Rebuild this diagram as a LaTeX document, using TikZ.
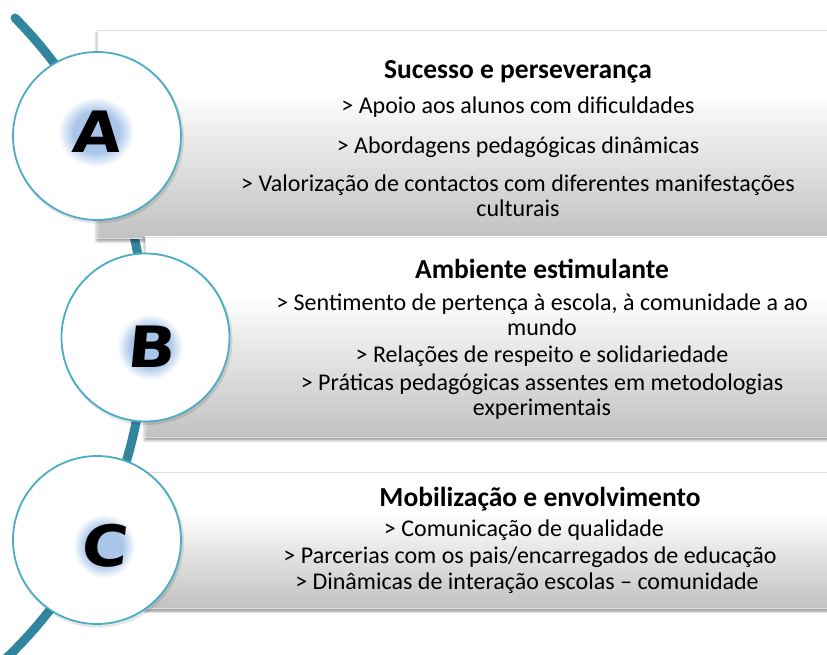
\documentclass[tikz,border=0pt]{standalone}
\usepackage{fontspec}
\setmainfont{Carlito}
\newfontfamily\letterfont[UprightFont={* Bold}, FakeStretch=1.1, FakeSlant=0.1]{DejaVu Sans}
\usetikzlibrary{shadows.blur}
\definecolor{aqua}{HTML}{4BACC6}
\definecolor{arcteal}{HTML}{31859C}
\definecolor{glowblue}{HTML}{8DB3E2}
\definecolor{boxgray}{HTML}{C2C2C2}
\pgfdeclareverticalshading{boxshade}{100bp}{color(0bp)=(boxgray); color(25bp)=(boxgray); color(45bp)=(boxgray!45!white); color(60bp)=(white); color(100bp)=(white)}
\pgfdeclareradialshading{glowshade}{\pgfpoint{0bp}{0bp}}{color(0bp)=(glowblue!75!white); color(15bp)=(glowblue!75!white); color(25bp)=(white); color(50bp)=(white)}
\tikzset{
	bar/.style={shade, shading=boxshade, draw=gray!25, line width=.6pt,
		blur shadow={shadow xshift=0pt, shadow yshift=-3pt, shadow blur radius=3pt, shadow opacity=45}},
	disc/.style={circle, fill=white, draw=aqua, line width=1.8pt, minimum size=168pt, inner sep=0pt},
	discshadow/.style={fill=black, opacity=.1},
	glow/.style={shade, shading=glowshade},
	letter/.style={font=\letterfont\fontsize{57}{57}\selectfont, inner sep=0pt, text height=41pt, text depth=0pt},
	heading/.style={font=\bfseries\fontsize{27.5}{32}\selectfont, anchor=base, inner sep=0pt},
	item/.style={font=\fontsize{24}{27}\selectfont, anchor=base, inner sep=0pt},
	arcline/.style={draw=arcteal, line width=9pt, line cap=round}
}

\begin{document}
\begin{tikzpicture}[x=1pt,y=1pt]
	\useasboundingbox (0,0) rectangle (827,654);
	\clip (0,0) rectangle (827,654);

	% the curved band behind the discs
	\coordinate (top) at (15,636);
	\draw[arcline] (top) arc[start angle=44.7, end angle=-47, radius=449];

	% bars
	\path[bar] (97,416) rectangle (850,624);
	\path[bar] (145,217) rectangle (850,417);
	\path[bar] (145,46) rectangle (850,182);

	% discs
	\coordinate (cA) at (97,518);
	\coordinate (cB) at (145.5,316.5);
	\coordinate (cC) at (97,114);
	\foreach \c in {cA,cB,cC}
		\fill[discshadow] ([shift={(1.5,-2)}]\c) circle (85.5);
	\node[disc] (dA) at (cA) {};
	\node[disc] (dB) at (cB) {};
	\node[disc] (dC) at (cC) {};

	\coordinate (pA) at (96,522);
	\coordinate (pB) at (150,307);
	\coordinate (pC) at (104,108);
	\path[glow] (pA) ellipse [x radius=38, y radius=35];
	\path[glow] (pB) ellipse [x radius=33, y radius=33];
	\path[glow] (pC) ellipse [x radius=31, y radius=32];
	\node[letter] (lA) at (pA) {A};
	\node[letter] (lB) at (pB) {B};
	\node[letter] (lC) at (pC) {C};

	% texts
	\node[heading] (tA) at (518,575) {Sucesso e perseverança};
	\node[item] (tA1) at (518,540) {> Apoio aos alunos com dificuldades};
	\node[item] (tA2) at (518,500) {> Abordagens pedagógicas dinâmicas};
	\node[item] (tA3) at (518,462) {> Valorização de contactos com diferentes manifestações};
	\node[item] (tA4) at (518,437) {culturais};

	\node[heading] (tB) at (542,375) {Ambiente estimulante};
	\node[item] (tB1) at (542,343) {> Sentimento de pertença à escola, à comunidade a ao};
	\node[item] (tB2) at (542,318) {mundo};
	\node[item] (tB3) at (542,291) {> Relações de respeito e solidariedade};
	\node[item] (tB4) at (542,264) {> Práticas pedagógicas assentes em metodologias};
	\node[item] (tB5) at (542,239) {experimentais};

	\node[heading] (tC) at (540,148) {Mobilização e envolvimento};
	\node[item] (tC1) at (524,118) {> Comunicação de qualidade};
	\node[item] (tC2) at (530,91) {> Parcerias com os pais/encarregados de educação};
	\node[item] (tC3) at (527,65) {> Dinâmicas de interação escolas – comunidade};
\end{tikzpicture}
\end{document}
